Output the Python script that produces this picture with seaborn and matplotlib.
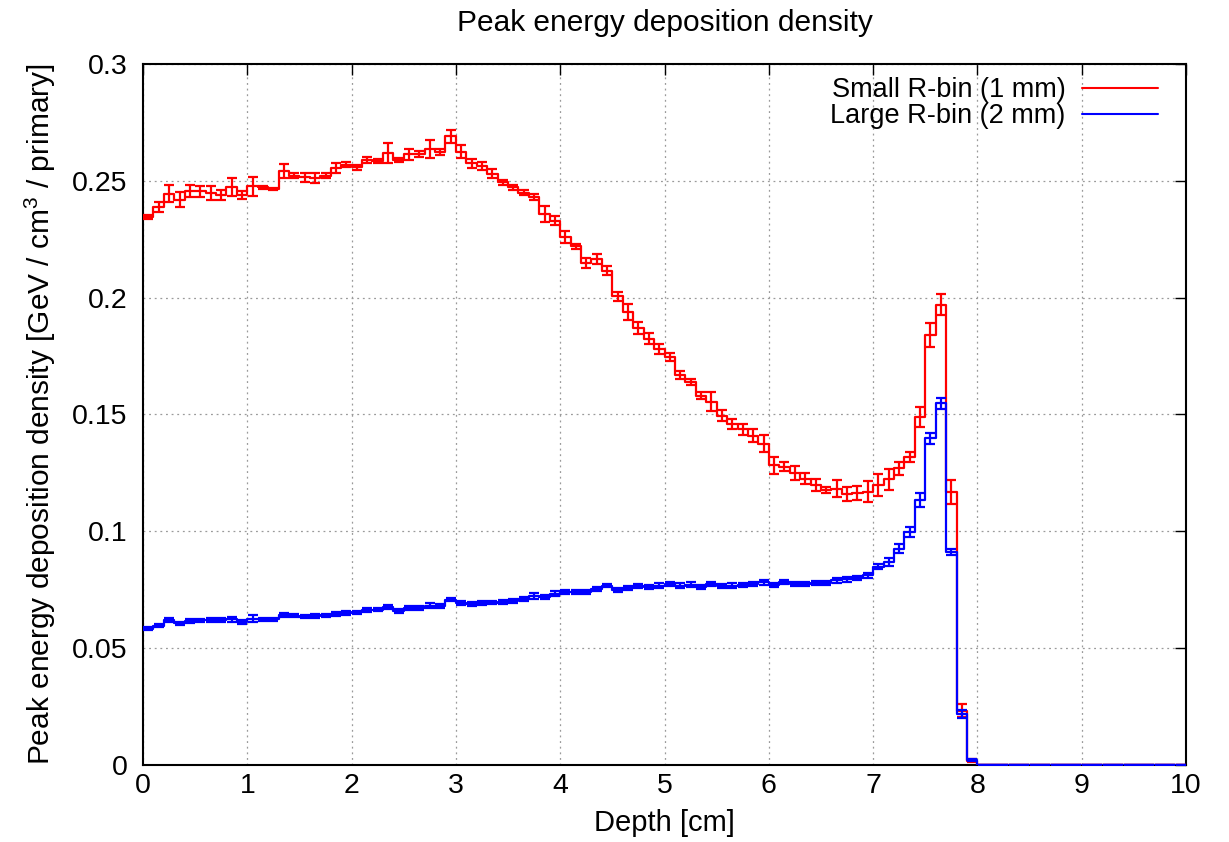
import numpy as np
import pandas as pd
import matplotlib
matplotlib.use("Agg")
import matplotlib.pyplot as plt
from matplotlib.lines import Line2D
import seaborn as sns

# ---------------- data ----------------
bin_width = 0.1          # depth bin width [cm]
depth_range = (0, 10)    # [cm]

small_rbin = [
    0.2345, 0.2388, 0.2445, 0.2419, 0.2458, 0.2455, 0.2450, 0.2440, 0.2474, 0.2440,
    0.2476, 0.2472, 0.2465, 0.2540, 0.2522, 0.2516, 0.2512, 0.2522, 0.2555, 0.2569,
    0.2558, 0.2591, 0.2585, 0.2619, 0.2588, 0.2613, 0.2615, 0.2636, 0.2624, 0.2690,
    0.2624, 0.2576, 0.2562, 0.2531, 0.2493, 0.2472, 0.2450, 0.2430, 0.2358, 0.2329,
    0.2259, 0.2219, 0.2148, 0.2165, 0.2116, 0.2005, 0.1940, 0.1870, 0.1824, 0.1780,
    0.1746, 0.1669, 0.1640, 0.1580, 0.1555, 0.1495, 0.1460, 0.1437, 0.1410, 0.1375,
    0.1283, 0.1276, 0.1250, 0.1226, 0.1198, 0.1176, 0.1183, 0.1159, 0.1163, 0.1170,
    0.1200, 0.1222, 0.1269, 0.1319, 0.1491, 0.1840, 0.1970, 0.1169, 0.0233, 0.0019,
    0, 0, 0, 0, 0, 0, 0, 0, 0, 0,
    0, 0, 0, 0, 0, 0, 0, 0, 0, 0,
]
small_err = [
    0.0010, 0.0020, 0.0037, 0.0032, 0.0026, 0.0023, 0.0030, 0.0020, 0.0040, 0.0018,
    0.0039, 0.0008, 0.0006, 0.0030, 0.0011, 0.0019, 0.0020, 0.0012, 0.0020, 0.0010,
    0.0010, 0.0013, 0.0009, 0.0044, 0.0009, 0.0024, 0.0011, 0.0040, 0.0013, 0.0028,
    0.0028, 0.0019, 0.0017, 0.0019, 0.0011, 0.0011, 0.0011, 0.0013, 0.0036, 0.0019,
    0.0026, 0.0011, 0.0021, 0.0021, 0.0018, 0.0021, 0.0034, 0.0024, 0.0023, 0.0020,
    0.0018, 0.0016, 0.0012, 0.0015, 0.0040, 0.0024, 0.0020, 0.0023, 0.0029, 0.0037,
    0.0036, 0.0019, 0.0030, 0.0025, 0.0027, 0.0014, 0.0037, 0.0029, 0.0029, 0.0044,
    0.0047, 0.0045, 0.0026, 0.0021, 0.0043, 0.0050, 0.0046, 0.0050, 0.0027, 0.0005,
    0, 0, 0, 0, 0, 0, 0, 0, 0, 0,
    0, 0, 0, 0, 0, 0, 0, 0, 0, 0,
]

large_rbin = [
    0.0583, 0.0597, 0.0619, 0.0607, 0.0616, 0.0619, 0.0620, 0.0620, 0.0623, 0.0612,
    0.0625, 0.0623, 0.0623, 0.0643, 0.0639, 0.0635, 0.0638, 0.0641, 0.0646, 0.0650,
    0.0653, 0.0662, 0.0665, 0.0676, 0.0659, 0.0672, 0.0673, 0.0682, 0.0682, 0.0708,
    0.0693, 0.0688, 0.0693, 0.0695, 0.0696, 0.0702, 0.0709, 0.0723, 0.0719, 0.0733,
    0.0740, 0.0740, 0.0739, 0.0753, 0.0768, 0.0748, 0.0758, 0.0766, 0.0762, 0.0768,
    0.0776, 0.0768, 0.0771, 0.0762, 0.0773, 0.0766, 0.0768, 0.0771, 0.0776, 0.0782,
    0.0771, 0.0782, 0.0776, 0.0773, 0.0779, 0.0778, 0.0790, 0.0795, 0.0800, 0.0812,
    0.0849, 0.0869, 0.0926, 0.0997, 0.1136, 0.1398, 0.1548, 0.0912, 0.0219, 0.0020,
    0, 0, 0, 0, 0, 0, 0, 0, 0, 0,
    0, 0, 0, 0, 0, 0, 0, 0, 0, 0,
]
large_err = [
    0.0006, 0.0006, 0.0008, 0.0007, 0.0007, 0.0007, 0.0007, 0.0008, 0.0010, 0.0008,
    0.0015, 0.0007, 0.0007, 0.0008, 0.0007, 0.0007, 0.0007, 0.0007, 0.0008, 0.0008,
    0.0008, 0.0008, 0.0008, 0.0010, 0.0008, 0.0008, 0.0008, 0.0011, 0.0008, 0.0008,
    0.0008, 0.0008, 0.0008, 0.0008, 0.0008, 0.0008, 0.0008, 0.0012, 0.0008, 0.0010,
    0.0008, 0.0008, 0.0008, 0.0008, 0.0008, 0.0009, 0.0009, 0.0009, 0.0009, 0.0009,
    0.0009, 0.0009, 0.0011, 0.0009, 0.0009, 0.0009, 0.0009, 0.0009, 0.0009, 0.0011,
    0.0009, 0.0009, 0.0009, 0.0009, 0.0009, 0.0009, 0.0010, 0.0010, 0.0010, 0.0010,
    0.0012, 0.0018, 0.0020, 0.0023, 0.0030, 0.0023, 0.0024, 0.0014, 0.0018, 0.0005,
    0, 0, 0, 0, 0, 0, 0, 0, 0, 0,
    0, 0, 0, 0, 0, 0, 0, 0, 0, 0,
]

series_labels = ["Small R-bin (1 mm)", "Large R-bin (2 mm)"]
series_colors = ["#ff0000", "#0000ff"]
x_ticks = [0, 1, 2, 3, 4, 5, 6, 7, 8, 9, 10]
y_ticks = [0, 0.05, 0.1, 0.15, 0.2, 0.25, 0.3]
y_tick_labels = ["0", "0.05", "0.1", "0.15", "0.2", "0.25", "0.3"]

# ---------------- style ----------------
sns.set_style("white", rc={"text.color": "black", "axes.labelcolor": "black",
                           "xtick.color": "black", "ytick.color": "black",
                           "axes.edgecolor": "black"})
plt.rcParams["font.family"] = ["Liberation Sans", "DejaVu Sans"]
plt.rcParams["mathtext.fontset"] = "custom"
plt.rcParams["mathtext.rm"] = "Liberation Sans"
plt.rcParams["mathtext.it"] = "Liberation Sans:italic"

n_bins = len(small_rbin)
centers = depth_range[0] + bin_width * (np.arange(n_bins) + 0.5)
df = pd.DataFrame({
    "depth": np.concatenate([centers, centers]),
    "value": np.concatenate([small_rbin, large_rbin]),
    "err": np.concatenate([small_err, large_err]),
    "series": [series_labels[0]] * n_bins + [series_labels[1]] * n_bins,
})

fig = plt.figure(figsize=(12.29, 8.42), dpi=100)
ax = fig.add_axes([143 / 1229, 1 - 765 / 842, (1186 - 143) / 1229, (765 - 64) / 842])

lw = 1.6
for label, color in zip(series_labels, series_colors):
    sub = df[df["series"] == label].reset_index(drop=True)
    sns.histplot(data=sub, x="depth", weights="value", binwidth=bin_width,
                 binrange=depth_range, element="step", fill=False,
                 color=color, linewidth=lw, ax=ax, zorder=3)
    ax.errorbar(sub["depth"], sub["value"], yerr=sub["err"], fmt="none",
                ecolor=color, elinewidth=lw, capsize=3.6, capthick=lw, zorder=3)

ax.set_xlim(0, 10)
ax.set_ylim(0, 0.3)
ax.set_xticks(x_ticks)
ax.set_xticklabels([str(t) for t in x_ticks])
ax.set_yticks(y_ticks)
ax.set_yticklabels(y_tick_labels)
ax.tick_params(axis="both", which="major", direction="in", length=8, width=1.0,
               top=True, right=True, labelsize=20.5, colors="black")
ax.tick_params(axis="x", pad=6)
ax.tick_params(axis="y", pad=11)
ax.minorticks_off()
for s in ax.spines.values():
    s.set_linewidth(1.5)
    s.set_color("black")

ax.grid(True, which="major", color="#9a9a9a", linestyle=(0, (1.5, 3)), linewidth=0.9)
ax.set_axisbelow(True)

ax.set_xlabel("Depth [cm]", fontsize=21, labelpad=7, color="black")
ax.set_ylabel("Peak energy deposition density [GeV / cm$^3$ / primary]", fontsize=21.5,
              labelpad=10, color="black")
ax.set_title("Peak energy deposition density", fontsize=21.5, pad=24, color="black")

handles = [Line2D([], [], color=c, linewidth=1.5) for c in series_colors]
leg = ax.legend(handles, series_labels, loc="upper right",
                bbox_to_anchor=((1166 - 143) / 1043, (765 - 69) / 701),
                borderaxespad=0, frameon=False, markerfirst=False,
                fontsize=19.5, handlelength=2.8, handletextpad=0.62, labelspacing=0.0,
                borderpad=0.3)
for t in leg.get_texts():
    t.set_color("black")

fig.savefig("out.png", dpi=100)
